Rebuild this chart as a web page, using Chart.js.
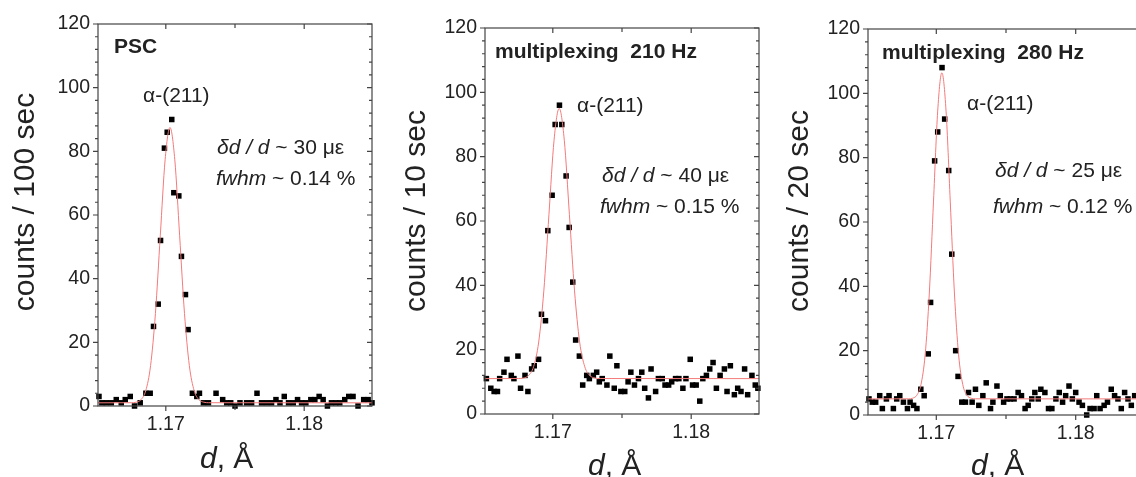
<!DOCTYPE html>
<html><head><meta charset="utf-8">
<script src="https://cdn.jsdelivr.net/npm/chart.js@4.4.0/dist/chart.umd.min.js"></script>
<style>
html,body{margin:0;padding:0;width:1136px;height:477px;overflow:hidden;background:#fff;}
canvas{position:absolute;top:0;}
</style></head><body>
<canvas id="c1" width="380" height="477" style="left:0px"></canvas>
<canvas id="c2" width="385" height="477" style="left:380px"></canvas>
<canvas id="c3" width="400" height="477" style="left:765px"></canvas>
<script>
// ---------- data ----------
const yMajorTicks = [0, 20, 40, 60, 80, 100, 120];
const yMinorTicks = [4,8,12,16,24,28,32,36,44,48,52,56,64,68,72,76,84,88,92,96,104,108,112,116];
const xMajorTicks = [1.17, 1.18];
const xMinorTicks = [1.175];

const pscD = [1.16517,1.16538,1.16570,1.16606,1.16642,1.16678,1.16707,1.16743,1.16774,1.16815,
1.16856,1.16887,1.16911,1.16945,1.16962,1.16990,1.17010,1.17043,1.17058,1.17094,
1.17113,1.17142,1.17161,1.17192,1.17224,1.17243,1.17272,1.17308,1.17363,1.17411,
1.17440,1.17469,1.17500,1.17536,1.17584,1.17620,1.17659,1.17692,1.17728,1.17764,
1.17796,1.17825,1.17856,1.17887,1.17921,1.17952,1.17981,1.18012,1.18048,1.18077,
1.18108,1.18137,1.18168,1.18197,1.18228,1.18257,1.18293,1.18322,1.18353,1.18389,
1.18430,1.18462,1.18490];
const pscCounts = [3,1,1,1,2,1,2,3,0,1, 4,4,25,32,52,81,86,90,67,66, 47,35,24,4,3,4,1,1,4,2,
1,1,0,1,1,1,4,1,1,1, 2,1,3,1,1,2,1,1,2,2, 3,2,0,1,1,1,2,3,3,0, 2,2,1];
const pscFitD = [1.1651,1.16750,1.16785,1.16820,1.16855,1.16890,1.16925,1.16960,1.16995,1.17030,
1.17065,1.17100,1.17135,1.17170,1.17205,1.17240,1.17275,1.17310,1.1849];
const pscFitCounts = [1,1.03,1.19,1.96,4.80,12.70,29.09,53.46,77.34,87.5,
77.34,53.46,29.09,12.70,4.80,1.96,1.19,1.03,1];

const m210D = [1.16520,1.16552,1.16576,1.16600,1.16616,1.16647,1.16669,1.16700,1.16719,1.16748,
1.16767,1.16799,1.16820,1.16847,1.16866,1.16897,1.16918,1.16947,1.16964,1.16995,
1.17017,1.17048,1.17065,1.17096,1.17118,1.17144,1.17165,1.17192,1.17216,1.17245,
1.17264,1.17293,1.17317,1.17336,1.17357,1.17391,1.17412,1.17444,1.17463,1.17492,
1.17520,1.17544,1.17564,1.17590,1.17619,1.17643,1.17664,1.17691,1.17710,1.17743,
1.17763,1.17791,1.17811,1.17837,1.17859,1.17887,1.17911,1.17940,1.17962,1.17993,
1.18010,1.18036,1.18062,1.18084,1.18110,1.18134,1.18158,1.18182,1.18209,1.18240,
1.18259,1.18283,1.18312,1.18336,1.18360,1.18386,1.18408,1.18439,1.18463,1.18482];
const m210Counts = [11,8,7,7,11,13,17,12,11,18, 8,12,7,14,15,17,31,29,57,68,
90,96,90,74,58,41,23,18,9,12, 11,12,13,10,11,9,18,8,15,7,
7,10,13,9,11,13,8,5,14,7, 11,11,9,9,10,11,11,8,11,17,
9,9,4,11,12,14,16,8,12,14, 7,15,6,8,7,14,6,12,9,8];
const m210FitD = [1.1651,1.16750,1.16787,1.16824,1.16861,1.16898,1.16935,1.16972,1.17009,1.17046,
1.17083,1.17120,1.17157,1.17194,1.17231,1.17268,1.17305,1.17342,1.1849];
const m210FitCounts = [11,11.03,11.18,11.93,14.69,22.37,38.27,61.95,85.13,95,
85.13,61.95,38.27,22.37,14.69,11.93,11.18,11.03,11];

const m280D = [1.16517,1.16541,1.16565,1.16594,1.16613,1.16642,1.16661,1.16692,1.16716,1.16738,
1.16764,1.16793,1.16812,1.16837,1.16861,1.16889,1.16913,1.16942,1.16959,1.16988,
1.17010,1.17041,1.17060,1.17089,1.17111,1.17139,1.17156,1.17183,1.17209,1.17231,
1.17257,1.17281,1.17305,1.17334,1.17358,1.17389,1.17406,1.17435,1.17459,1.17483,
1.17507,1.17531,1.17558,1.17587,1.17611,1.17637,1.17659,1.17685,1.17707,1.17731,
1.17750,1.17779,1.17805,1.17829,1.17858,1.17882,1.17906,1.17928,1.17952,1.17976,
1.18000,1.18024,1.18048,1.18079,1.18103,1.18132,1.18151,1.18175,1.18204,1.18228,
1.18255,1.18279,1.18303,1.18327,1.18351,1.18375,1.18399,1.18423];
const m280Counts = [5,4,4,6,2,5,6,2,5,6, 4,2,4,3,2,8,6,19,35,79,
88,108,92,76,50,20,12,4,4,7, 4,8,3,6,10,2,4,9,6,4,
5,5,5,7,6,2,3,5,7,5, 8,7,2,2,5,7,4,6,9,5,
7,4,3,0,2,2,6,2,3,4, 8,6,5,2,7,5,3,6];
const m280FitD = [1.1651,1.16800,1.16830,1.16860,1.16890,1.16920,1.16950,1.16980,1.17010,1.17040,
1.17070,1.17100,1.17130,1.17160,1.17190,1.17220,1.17250,1.17280,1.1849];
const m280FitCounts = [5,5.03,5.22,6.13,9.45,18.72,37.92,66.50,94.48,106.4,
94.48,66.50,37.92,18.72,9.45,6.13,5.22,5.03,5];

// ---------- drawing ----------
const FONT = '"Liberation Sans", Arial, Helvetica, sans-serif';
const INK = '#222';

function xy(ds, cs) { return ds.map((d, i) => ({ x: d, y: cs[i] })); }

function drawRich(ctx, x, y, segs, size) {
  let cx = x;
  segs.forEach(s => {
    ctx.font = (s.st || '') + ' ' + size + 'px ' + FONT;
    ctx.fillText(s.t, cx, y);
    cx += ctx.measureText(s.t).width;
  });
}

const framePlugin = {
  id: 'frame',
  afterDatasetsDraw(chart, args, o) {
    const { ctx, chartArea: a, scales: { x, y } } = chart;
    ctx.save();
    ctx.strokeStyle = '#444';
    ctx.lineWidth = 1.2;
    ctx.strokeRect(a.left, a.top, a.right - a.left, a.bottom - a.top);
    ctx.beginPath();
    const yt = (v, L) => { const p = y.getPixelForValue(v); ctx.moveTo(a.left - L, p); ctx.lineTo(a.left, p); ctx.moveTo(a.right, p); ctx.lineTo(a.right - L, p); };
    const xt = (v, L) => { const p = x.getPixelForValue(v); ctx.moveTo(p, a.bottom); ctx.lineTo(p, a.bottom + L); ctx.moveTo(p, a.top); ctx.lineTo(p, a.top + L); };
    yMajorTicks.forEach(v => yt(v, 5));
    yMinorTicks.forEach(v => yt(v, 3));
    xMajorTicks.forEach(v => xt(v, 5));
    xMinorTicks.forEach(v => xt(v, 4));
    ctx.stroke();

    ctx.fillStyle = INK;
    ctx.save();
    ctx.translate(o.yTitle[1], o.yTitle[2]);
    ctx.rotate(-Math.PI / 2);
    ctx.textAlign = 'center';
    ctx.textBaseline = 'middle';
    ctx.font = '30px ' + FONT;
    ctx.fillText(o.yTitle[0], 0, 0);
    ctx.restore();
    ctx.textAlign = 'left';
    ctx.textBaseline = 'alphabetic';
    drawRich(ctx, o.xTitle[0], o.xTitle[1], [{ t: 'd', st: 'italic' }, { t: ', Å' }], 30);
    drawRich(ctx, o.label[1], o.label[2], [{ t: o.label[0], st: 'bold' }], 21);
    drawRich(ctx, o.peak[0], o.peak[1], [{ t: 'α-(211)' }], 21);
    drawRich(ctx, o.strain[1], o.strain[2], [{ t: 'δd / d', st: 'italic' }, { t: ' ~ ' + o.strain[0] + ' ' }, { t: 'με' }], 21);
    drawRich(ctx, o.fwhm[1], o.fwhm[2], [{ t: 'fwhm', st: 'italic' }, { t: ' ~ ' + o.fwhm[0] + ' %' }], 21);
    ctx.restore();
  }
};

function makeChart(id, pts, fit, pad, info) {
  return new Chart(document.getElementById(id), {
    type: 'scatter',
    data: {
      datasets: [
        { data: fit, showLine: true, pointRadius: 0, borderColor: '#f47a7a', borderWidth: 1,
          cubicInterpolationMode: 'monotone', order: 0 },
        { data: pts, showLine: false, pointStyle: 'rect', pointRadius: 3.9, pointHoverRadius: 3.9,
          backgroundColor: '#000', borderWidth: 0, order: 1, clip: 5 }
      ]
    },
    options: {
      responsive: false, animation: false, devicePixelRatio: 1,
      layout: { padding: pad },
      plugins: { legend: { display: false }, tooltip: { enabled: false }, frame: info },
      scales: {
        x: {
          type: 'linear', min: 1.1651, max: 1.1849,
          grid: { display: false, drawTicks: false }, border: { display: false },
          afterBuildTicks: s => { s.ticks = xMajorTicks.map(v => ({ value: v })); },
          afterFit: s => { s.height = 40; },
          ticks: { font: { family: FONT, size: 19.5 }, color: INK, padding: 7, maxRotation: 0,
            callback: v => Number(v).toFixed(2) }
        },
        y: {
          type: 'linear', min: 0, max: 120,
          grid: { display: false, drawTicks: false }, border: { display: false },
          afterBuildTicks: s => { s.ticks = yMajorTicks.map(v => ({ value: v })); },
          afterFit: s => { s.width = 60; },
          ticks: { font: { family: FONT, size: 19.5 }, color: INK, padding: 8 }
        }
      }
    },
    plugins: [framePlugin]
  });
}

makeChart('c1', xy(pscD, pscCounts), xy(pscFitD, pscFitCounts),
  { left: 38, top: 24, right: 8, bottom: 31 },
  { yTitle: ['counts / 100 sec', 26, 202], xTitle: [200, 468], label: ['PSC', 114, 53],
    peak: [143, 102], strain: ['30', 217, 154], fwhm: ['0.14', 216, 185] });

makeChart('c2', xy(m210D, m210Counts), xy(m210FitD, m210FitCounts),
  { left: 45, top: 28, right: 6, bottom: 23 },
  { yTitle: ['counts / 10 sec', 37, 211], xTitle: [208, 475], label: ['multiplexing  210 Hz', 115, 58],
    peak: [197, 112], strain: ['40', 222, 182], fwhm: ['0.15', 220, 213] });

makeChart('c3', xy(m280D, m280Counts), xy(m280FitD, m280FitCounts),
  { left: 43, top: 29, right: 21, bottom: 22 },
  { yTitle: ['counts / 20 sec', 35, 211], xTitle: [206, 475], label: ['multiplexing  280 Hz', 117, 59],
    peak: [202, 110], strain: ['25', 230, 177], fwhm: ['0.12', 228, 213] });
</script>
</body></html>
